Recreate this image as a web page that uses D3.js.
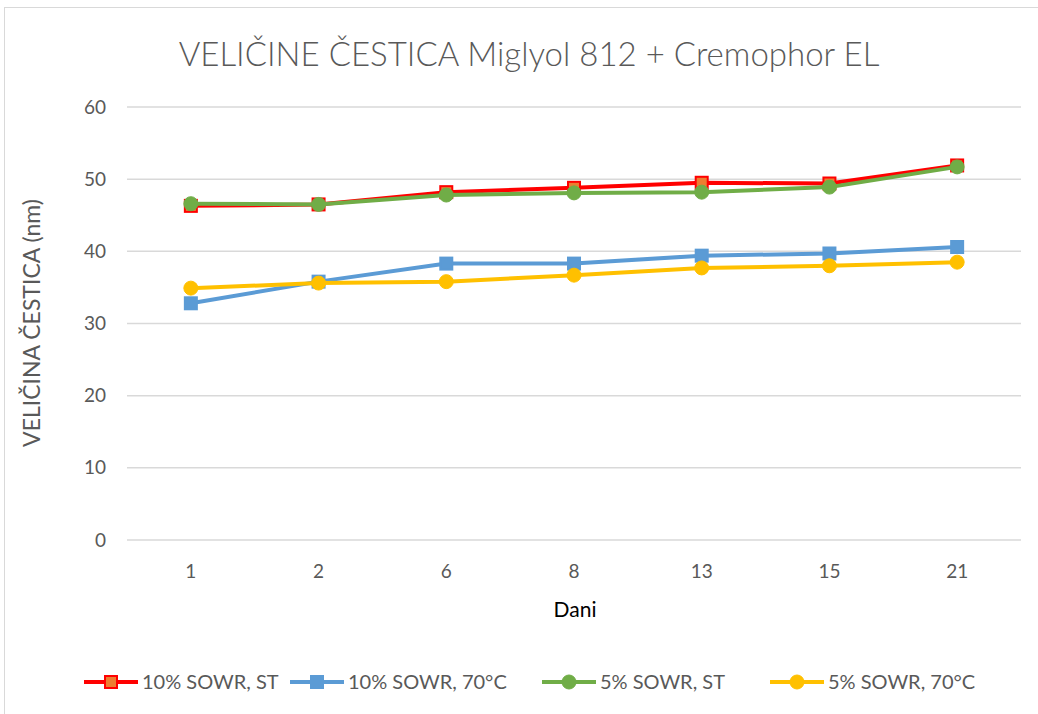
<!DOCTYPE html>
<html>
<head>
<meta charset="utf-8">
<script src="https://cdn.jsdelivr.net/npm/d3@7"></script>
<style>
  body { margin: 0; background: #fff; }
  text { font-family: Lato, "Open Sans", sans-serif; fill: #595959; font-weight: 400; }
</style>
</head>
<body>
<div id="chart"></div>
<script>
// chart data
const days = ["1", "2", "6", "8", "13", "15", "21"];
const seriesNames = ["10% SOWR, ST", "10% SOWR, 70°C", "5% SOWR, ST", "5% SOWR, 70°C"];
const sowr10St = [46.3, 46.5, 48.2, 48.8, 49.5, 49.4, 51.9];
const sowr10Hot = [32.8, 35.8, 38.3, 38.3, 39.4, 39.7, 40.6];
const sowr5St = [46.6, 46.5, 47.8, 48.1, 48.2, 48.9, 51.7];
const sowr5Hot = [34.9, 35.6, 35.8, 36.7, 37.7, 38.0, 38.5];
const yTicks = [0, 10, 20, 30, 40, 50, 60];

const width = 1038, height = 714;
const margin = {left: 127, right: 17, top: 107, bottom: 174};

const svg = d3.select("#chart").append("svg")
    .attr("width", width)
    .attr("height", height);

// outer chart border
svg.append("rect")
    .attr("x", 4.5).attr("y", 7.5)
    .attr("width", 1050).attr("height", 730)
    .attr("fill", "#fff")
    .attr("stroke", "#d9d9d9");

const x = d3.scaleBand()
    .domain(days)
    .range([margin.left, width - margin.right]);

const y = d3.scaleLinear()
    .domain([0, 60])
    .range([height - margin.bottom, margin.top]);

// gridlines
svg.append("g")
    .selectAll("line")
    .data(yTicks)
    .enter()
    .append("line")
    .attr("x1", margin.left)
    .attr("x2", width - margin.right)
    .attr("y1", d => y(d))
    .attr("y2", d => y(d))
    .attr("stroke", "#d9d9d9")
    .attr("stroke-width", 1.5);

// y axis labels
const yAxis = svg.append("g")
    .attr("transform", `translate(${margin.left - 21},0)`)
    .call(d3.axisLeft(y).tickValues(yTicks).tickSize(0).tickPadding(0));
yAxis.select(".domain").remove();
yAxis.selectAll("text")
    .style("font-size", "19px")
    .attr("fill", "#595959");

// x axis labels
const xAxis = svg.append("g")
    .attr("transform", `translate(0,${height - margin.bottom + 13})`)
    .call(d3.axisBottom(x).tickSize(0).tickPadding(12));
xAxis.select(".domain").remove();
xAxis.selectAll("text")
    .style("font-size", "19px")
    .attr("fill", "#595959");

// titles
svg.append("text")
    .attr("x", 529).attr("y", 66)
    .attr("text-anchor", "middle")
    .style("font-size", "33px")
    .style("font-weight", "300")
    .text("VELIČINE ČESTICA Miglyol 812 + Cremophor EL");

svg.append("text")
    .attr("x", 575).attr("y", 617)
    .attr("text-anchor", "middle")
    .style("font-size", "21px")
    .style("font-weight", "400")
    .style("fill", "#000")
    .text("Dani");

svg.append("text")
    .attr("transform", "translate(40,323) rotate(-90)")
    .attr("text-anchor", "middle")
    .style("font-size", "23px")
    .text("VELIČINA ČESTICA (nm)");

const series = [
    {name: seriesNames[0], values: sowr10St, line: "#ff0000", fill: "#ed7d31", stroke: "#ff0000", shape: "square"},
    {name: seriesNames[1], values: sowr10Hot, line: "#5b9bd5", fill: "#5b9bd5", stroke: "#5b9bd5", shape: "square"},
    {name: seriesNames[2], values: sowr5St, line: "#70ad47", fill: "#70ad47", stroke: "#70ad47", shape: "circle"},
    {name: seriesNames[3], values: sowr5Hot, line: "#ffc000", fill: "#ffc000", stroke: "#ffc000", shape: "circle"}
];

const line = d3.line()
    .x((d, i) => x(days[i]) + x.bandwidth() / 2)
    .y(d => y(d));

function drawMarker(g, s, cx, cy) {
    if (s.shape === "square") {
        g.append("rect")
            .attr("x", cx - 6).attr("y", cy - 6)
            .attr("width", 12).attr("height", 12)
            .attr("fill", s.fill)
            .attr("stroke", s.stroke)
            .attr("stroke-width", 2);
    } else {
        g.append("circle")
            .attr("cx", cx).attr("cy", cy).attr("r", 7)
            .attr("fill", s.fill)
            .attr("stroke", s.stroke)
            .attr("stroke-width", 1);
    }
}

series.forEach(s => {
    const g = svg.append("g");
    g.append("path")
        .attr("d", line(s.values))
        .attr("fill", "none")
        .attr("stroke", s.line)
        .attr("stroke-width", 4)
        .attr("stroke-linejoin", "round");
    s.values.forEach((v, i) => drawMarker(g, s, x(days[i]) + x.bandwidth() / 2, y(v)));
});

// legend
const legendX = [84, 290, 542, 770];
series.forEach((s, i) => {
    const g = svg.append("g").attr("transform", `translate(${legendX[i]},682)`);
    g.append("line")
        .attr("x1", 0).attr("x2", 54)
        .attr("stroke", s.line)
        .attr("stroke-width", 4);
    drawMarker(g, s, 27, 0);
    g.append("text")
        .attr("x", 58).attr("y", 7)
        .style("font-size", "20px")
        .text(s.name);
});
</script>
</body>
</html>
